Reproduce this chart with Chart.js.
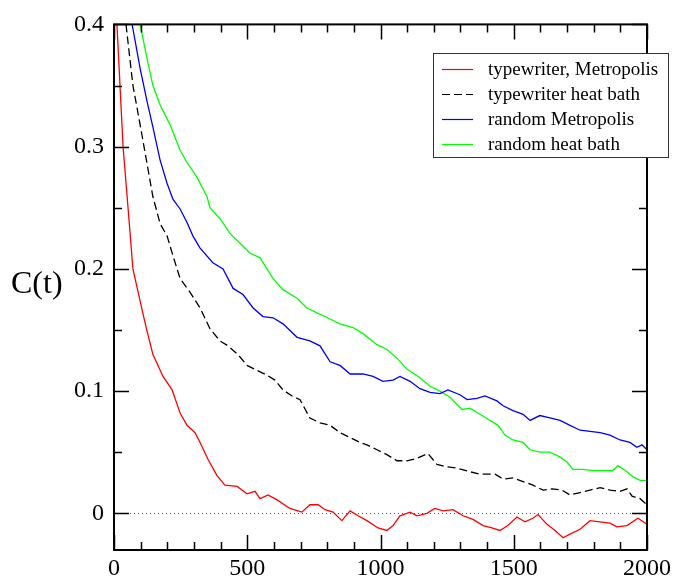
<!DOCTYPE html>
<html>
<head>
<meta charset="utf-8">
<script src="https://cdn.jsdelivr.net/npm/chart.js@4.4.0/dist/chart.umd.min.js"></script>
<style>
  html, body { margin: 0; padding: 0; background: #fff; }
  #wrap { width: 685px; height: 578px; }
</style>
</head>
<body>
<div id="wrap"><canvas id="corr-chart" width="685" height="578"></canvas></div>
<script>
/* Data: t values and C(t) for each series */
let seriesNames = ['typewriter, Metropolis', 'typewriter heat bath', 'random Metropolis', 'random heat bath']

let redT = [11, 34, 53, 71, 109, 124, 146, 184, 218, 248, 274, 304, 323, 353, 386, 416, 462, 499, 529, 548, 578, 612, 660, 705, 735, 766, 792, 822, 855, 886, 916, 949, 991, 1024, 1047, 1073, 1111, 1137, 1174, 1204, 1235, 1272, 1310, 1347, 1385, 1418, 1448, 1478, 1512, 1542, 1572, 1591, 1625, 1655, 1685, 1711, 1749, 1786, 1824, 1861, 1887, 1925, 1966, 2000]
let redC = [0.400, 0.300, 0.249, 0.200, 0.163, 0.149, 0.130, 0.112, 0.101, 0.082, 0.072, 0.066, 0.058, 0.044, 0.031, 0.023, 0.022, 0.016, 0.018, 0.012, 0.015, 0.011, 0.004, 0.001, 0.007, 0.007, 0.003, 0.001, -0.006, 0.002, -0.002, -0.006, -0.012, -0.014, -0.010, -0.002, 0.001, -0.002, 0.000, 0.004, 0.002, 0.003, -0.002, -0.005, -0.010, -0.012, -0.014, -0.010, -0.003, -0.007, -0.004, -0.001, -0.009, -0.014, -0.020, -0.017, -0.013, -0.006, -0.007, -0.008, -0.011, -0.010, -0.004, -0.009]

let blackT = [45, 71, 98, 124, 146, 173, 199, 221, 248, 285, 323, 360, 398, 428, 465, 499, 537, 574, 604, 634, 668, 698, 735, 773, 811, 848, 886, 923, 949, 987, 1024, 1062, 1099, 1137, 1178, 1212, 1250, 1287, 1336, 1373, 1430, 1460, 1497, 1535, 1572, 1610, 1644, 1681, 1711, 1749, 1786, 1824, 1861, 1899, 1925, 1944, 1974, 2000]
let blackC = [0.400, 0.350, 0.318, 0.286, 0.259, 0.237, 0.227, 0.211, 0.192, 0.181, 0.168, 0.151, 0.141, 0.137, 0.130, 0.121, 0.117, 0.113, 0.109, 0.101, 0.096, 0.093, 0.078, 0.074, 0.072, 0.066, 0.062, 0.058, 0.056, 0.052, 0.048, 0.043, 0.043, 0.045, 0.049, 0.040, 0.038, 0.037, 0.034, 0.032, 0.032, 0.028, 0.029, 0.026, 0.023, 0.019, 0.020, 0.019, 0.015, 0.017, 0.019, 0.021, 0.019, 0.018, 0.020, 0.014, 0.012, 0.007]

let blueT = [68, 98, 124, 146, 173, 199, 221, 248, 274, 296, 323, 371, 409, 447, 484, 522, 559, 597, 634, 687, 735, 773, 811, 848, 886, 934, 972, 1009, 1047, 1073, 1111, 1148, 1186, 1223, 1253, 1298, 1325, 1362, 1392, 1437, 1460, 1497, 1535, 1561, 1598, 1636, 1674, 1711, 1749, 1786, 1824, 1861, 1899, 1936, 1962, 1981, 2000]
let blueC = [0.400, 0.364, 0.337, 0.316, 0.289, 0.270, 0.257, 0.249, 0.238, 0.227, 0.217, 0.205, 0.200, 0.184, 0.179, 0.168, 0.161, 0.160, 0.155, 0.144, 0.141, 0.137, 0.124, 0.121, 0.114, 0.114, 0.112, 0.108, 0.109, 0.112, 0.108, 0.102, 0.099, 0.098, 0.101, 0.097, 0.093, 0.094, 0.096, 0.092, 0.088, 0.084, 0.081, 0.076, 0.080, 0.078, 0.076, 0.072, 0.068, 0.067, 0.066, 0.064, 0.060, 0.058, 0.054, 0.056, 0.052]

let greenT = [98, 124, 146, 173, 210, 248, 274, 311, 349, 360, 398, 435, 473, 510, 548, 597, 634, 687, 724, 762, 811, 848, 897, 934, 987, 1024, 1062, 1099, 1148, 1186, 1223, 1261, 1306, 1336, 1373, 1411, 1441, 1467, 1497, 1535, 1561, 1598, 1636, 1674, 1700, 1722, 1760, 1797, 1835, 1872, 1891, 1925, 1947, 1974, 2000]
let greenC = [0.400, 0.372, 0.350, 0.334, 0.318, 0.297, 0.287, 0.275, 0.259, 0.250, 0.241, 0.229, 0.221, 0.213, 0.209, 0.192, 0.183, 0.176, 0.168, 0.164, 0.159, 0.155, 0.152, 0.147, 0.138, 0.134, 0.127, 0.118, 0.111, 0.104, 0.100, 0.095, 0.085, 0.086, 0.081, 0.076, 0.072, 0.064, 0.060, 0.058, 0.052, 0.050, 0.050, 0.046, 0.042, 0.036, 0.036, 0.035, 0.035, 0.035, 0.039, 0.034, 0.030, 0.027, 0.027]

/* Tick values */
let xTicks = [0, 500, 1000, 1500, 2000]
let xMinorStep = 100
let yTicks = [0, 0.1, 0.2, 0.3, 0.4]
let yMinorStep = 0.05

let serif = '"Liberation Serif", "Times New Roman", serif'

function toPoints(ts, cs) {
    return ts.map(function(t, i) { return { x: t, y: cs[i] } })
}

// frame, ticks on all four sides, dotted zero line, legend and y label
let framePlugin = {
    id: 'frame',
    beforeDatasetsDraw: function(chart) {
        let ctx = chart.ctx
        let a = chart.chartArea
        let y0 = chart.scales.y.getPixelForValue(0)
        ctx.save()
        ctx.strokeStyle = '#555'
        ctx.lineWidth = 1
        ctx.setLineDash([1, 3])
        ctx.beginPath()
        ctx.moveTo(a.left, Math.round(y0) + 0.5)
        ctx.lineTo(a.right, Math.round(y0) + 0.5)
        ctx.stroke()
        ctx.restore()
    },
    afterDraw: function(chart) {
        let ctx = chart.ctx
        let a = chart.chartArea
        let xs = chart.scales.x
        let ys = chart.scales.y
        ctx.save()
        ctx.strokeStyle = '#000'
        ctx.lineWidth = 2
        ctx.strokeRect(a.left, a.top, a.right - a.left, a.bottom - a.top)

        ctx.lineWidth = 1.5
        ctx.beginPath()
        // x ticks, bottom and top
        for (let t = 0; t <= 2000; t += xMinorStep) {
            let px = Math.round(xs.getPixelForValue(t)) + 0.5
            let len = (t % 500 == 0) ? 15 : 8
            ctx.moveTo(px, a.bottom); ctx.lineTo(px, a.bottom - len)
            ctx.moveTo(px, a.top); ctx.lineTo(px, a.top + len)
        }
        // y ticks, left and right
        for (let k = 0; k <= 8; k++) {
            let v = k * yMinorStep
            let py = Math.round(ys.getPixelForValue(v)) + 0.5
            let len = (k % 2 == 0) ? 15 : 8
            ctx.moveTo(a.left, py); ctx.lineTo(a.left + len, py)
            ctx.moveTo(a.right, py); ctx.lineTo(a.right - len, py)
        }
        ctx.stroke()

        // y axis title
        ctx.fillStyle = '#000'
        ctx.font = '32px ' + serif
        ctx.textAlign = 'left'
        ctx.textBaseline = 'alphabetic'
        ctx.fillText('C(t)', 11, 293)

        // legend box
        let bx = 433.5, by = 53.5, bw = 235, bh = 104
        ctx.fillStyle = '#fff'
        ctx.fillRect(bx, by, bw, bh)
        ctx.strokeStyle = '#333'
        ctx.lineWidth = 1
        ctx.strokeRect(bx, by, bw, bh)
        ctx.font = '19px ' + serif
        ctx.textBaseline = 'middle'
        chart.data.datasets.forEach(function(ds, i) {
            let ry = 69 + i * 25
            ctx.strokeStyle = ds.borderColor
            ctx.lineWidth = 1.2
            ctx.setLineDash(ds.borderDash || [])
            ctx.beginPath()
            ctx.moveTo(442, ry + 0.5)
            ctx.lineTo(473, ry + 0.5)
            ctx.stroke()
            ctx.setLineDash([])
            ctx.fillStyle = '#000'
            ctx.fillText(ds.label, 488, ry + 1)
        })
        ctx.restore()
    }
}

let lineStyle = { pointRadius: 0, borderWidth: 1.3, tension: 0, fill: false }

let chartCanvas = document.querySelector('#corr-chart')
let corrChart = new Chart(chartCanvas.getContext('2d'), {
    type: 'line',
    data: {
        datasets: [
            Object.assign({ label: seriesNames[0], data: toPoints(redT, redC), borderColor: '#ff0000' }, lineStyle),
            Object.assign({ label: seriesNames[1], data: toPoints(blackT, blackC), borderColor: '#000000', borderDash: [8, 4] }, lineStyle),
            Object.assign({ label: seriesNames[2], data: toPoints(blueT, blueC), borderColor: '#0000ff' }, lineStyle),
            Object.assign({ label: seriesNames[3], data: toPoints(greenT, greenC), borderColor: '#00ff00' }, lineStyle)
        ]
    },
    options: {
        responsive: false,
        animation: false,
        events: [],
        layout: { padding: { left: 0, top: 15, right: 38, bottom: 0 } },
        plugins: { legend: { display: false }, tooltip: { enabled: false } },
        scales: {
            x: {
                type: 'linear',
                min: 0,
                max: 2000,
                grid: { display: false, drawTicks: false },
                border: { display: false },
                afterBuildTicks: function(scale) { scale.ticks = xTicks.map(function(v) { return { value: v } }) },
                afterFit: function(scale) { scale.height = 28 },
                ticks: {
                    padding: 4,
                    maxRotation: 0,
                    color: '#000',
                    font: { family: serif, size: 24 },
                    callback: function(v) { return String(v) }
                }
            },
            y: {
                type: 'linear',
                min: -0.03,
                max: 0.4,
                grid: { display: false, drawTicks: false },
                border: { display: false },
                afterBuildTicks: function(scale) { scale.ticks = yTicks.map(function(v) { return { value: v } }) },
                afterFit: function(scale) { scale.width = 114 },
                ticks: {
                    padding: 10,
                    color: '#000',
                    font: { family: serif, size: 24 },
                    callback: function(v) { return String(Math.round(v * 10) / 10) }
                }
            }
        }
    },
    plugins: [framePlugin]
})
</script>
</body>
</html>
